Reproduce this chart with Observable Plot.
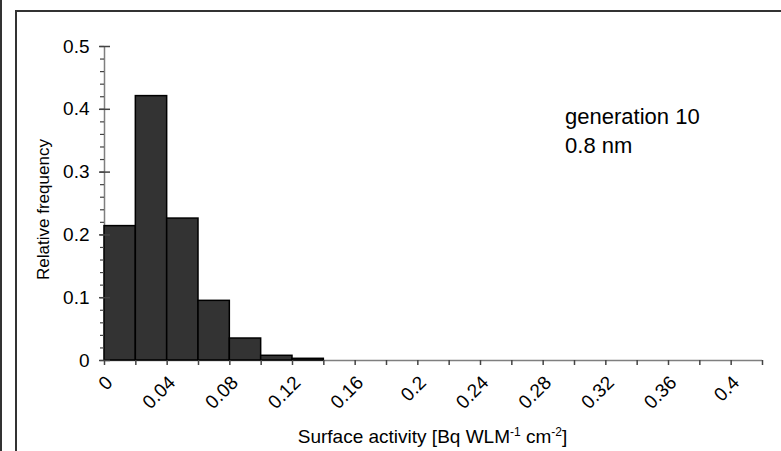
<!DOCTYPE html>
<html>
<head>
<meta charset="utf-8">
<script src="https://cdn.jsdelivr.net/npm/d3@7"></script>
<script src="https://cdn.jsdelivr.net/npm/@observablehq/plot@0.6"></script>
<style>
  html, body { margin: 0; padding: 0; background: #fff; }
  #wrap { position: relative; width: 781px; height: 451px; overflow: hidden; font-family: "Liberation Sans", Arial, sans-serif; }
  #edge { position: absolute; left: 0; top: 0; width: 2px; height: 451px; background: #333; }
  #frame { position: absolute; left: 15px; top: 10px; right: -4px; bottom: -4px; border-left: 2px solid #333; border-top: 2px solid #333; }
  #chart { position: absolute; left: 0; top: 0; }
  #xtitle { position: absolute; left: 0; width: 781px; top: 426px; text-align: center; font-size: 19px; color: #000; padding-left: 84px; box-sizing: border-box; white-space: nowrap; }
  #xtitle sup { font-size: 12px; vertical-align: 7px; line-height: 0; }
</style>
</head>
<body>
<div id="wrap">
  <div id="edge"></div>
  <div id="frame"></div>
  <div id="chart"></div>
  <div id="xtitle">Surface activity [Bq WLM<sup>-1</sup> cm<sup>-2</sup>]</div>
</div>
<script>
// Histogram bins (start/end of each 0.02-wide bin) and relative frequencies
const binStart = [0, 0.02, 0.04, 0.06, 0.08, 0.10, 0.12];
const binEnd   = [0.02, 0.04, 0.06, 0.08, 0.10, 0.12, 0.14];
const relFreq  = [0.214, 0.421, 0.226, 0.095, 0.035, 0.0075, 0.0027];

// Axis ticks
const xDomain = [0, 0.42];
const xMinorTicks = [0, 0.02, 0.04, 0.06, 0.08, 0.10, 0.12, 0.14, 0.16, 0.18, 0.20, 0.22, 0.24, 0.26, 0.28, 0.30, 0.32, 0.34, 0.36, 0.38, 0.40, 0.42];
const xLabelTicks = [0, 0.04, 0.08, 0.12, 0.16, 0.20, 0.24, 0.28, 0.32, 0.36, 0.40];
const xTickLabels = ["0", "0.04", "0.08", "0.12", "0.16", "0.2", "0.24", "0.28", "0.32", "0.36", "0.4"];
const yMajorTicks = [0, 0.1, 0.2, 0.3, 0.4, 0.5];
const yTickLabels = ["0", "0.1", "0.2", "0.3", "0.4", "0.5"];
const yMinorTicks = [0, 0.02, 0.04, 0.06, 0.08, 0.1, 0.12, 0.14, 0.16, 0.18, 0.2, 0.22, 0.24, 0.26, 0.28, 0.3, 0.32, 0.34, 0.36, 0.38, 0.4, 0.42, 0.44, 0.46, 0.48, 0.5];

const annotation = ["generation 10", "0.8 nm"];
const annotationX = [0.294, 0.294];
const annotationY = [0.388, 0.342];

const bins = binStart.map((s, i) => ({x1: s, x2: binEnd[i], y: relFreq[i]}));
const notes = annotation.map((t, i) => ({t, x: annotationX[i], y: annotationY[i]}));

const chart = Plot.plot({
  width: 781,
  height: 451,
  marginLeft: 104,
  marginRight: 19,
  marginTop: 46,
  marginBottom: 91,
  style: {fontFamily: "'Liberation Sans', Arial, sans-serif", color: "#000", background: "transparent", overflow: "visible"},
  x: {type: "linear", domain: xDomain},
  y: {type: "linear", domain: [0, 0.5]},
  marks: [
    Plot.ruleY([0], {x1: xDomain[0], x2: xDomain[1], stroke: "#7f7f7f", strokeWidth: 1.5}),
    Plot.ruleX([0], {stroke: "#7f7f7f", strokeWidth: 1.5}),
    Plot.rectY(bins, {x1: "x1", x2: "x2", y: "y", fill: "#333333", stroke: "#000", strokeWidth: 1.5}),
    // x axis: minor ticks
    Plot.axisX({ticks: xMinorTicks, tickSize: 5, stroke: "#444", strokeWidth: 1.5, tickFormat: () => "", label: null}),
    // x axis: rotated labels
    Plot.axisX({ticks: xLabelTicks, tickSize: 0, tickRotate: -45, tickPadding: 19, dx: 5, fontSize: 19, fill: "#000",
      tickFormat: (d, i) => xTickLabels[i], label: null}),
    // y axis: minor ticks (outside)
    Plot.axisY({ticks: yMinorTicks, tickSize: 4, stroke: "#444", strokeWidth: 1.2, tickFormat: () => "", label: null}),
    // y axis: major ticks crossing the axis
    Plot.axisY({ticks: yMajorTicks, tickSize: 11, dx: 6, stroke: "#444", strokeWidth: 1.5, tickFormat: () => "", label: null}),
    // y axis labels
    Plot.axisY({ticks: yMajorTicks, tickSize: 0, tickPadding: 15, fontSize: 19, fill: "#000",
      tickFormat: (d, i) => yTickLabels[i], label: null}),
    // y axis title
    Plot.text(["Relative frequency"], {frameAnchor: "left", textAnchor: "middle", dx: -61, dy: 6, rotate: -90, fontSize: 17, fill: "#000", text: d => d}),
    // annotation
    Plot.text(notes, {x: "x", y: "y", text: "t", textAnchor: "start", fontSize: 22, fill: "#000"})
  ]
});
document.getElementById("chart").appendChild(chart);
</script>
</body>
</html>
